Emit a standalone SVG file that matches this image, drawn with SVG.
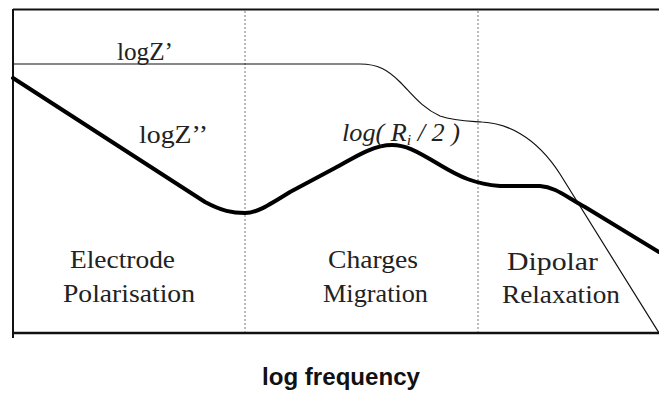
<svg xmlns="http://www.w3.org/2000/svg" width="659" height="394" viewBox="0 0 659 394">
<style>
.axis{stroke:#111;stroke-width:2;fill:none}
.div{stroke:#777;stroke-width:1;stroke-dasharray:2,2;fill:none}
.thin{stroke:#111;stroke-width:1.2;fill:none}
.thick{stroke:#000;stroke-width:4;fill:none;stroke-linejoin:round;stroke-linecap:round}
.serif{font-family:"Liberation Serif","Times New Roman",serif;font-size:25px;fill:#222}
.lbl{font-family:"Liberation Sans",Arial,sans-serif;font-size:23px;font-weight:bold;fill:#111}
</style>
<rect width="659" height="394" fill="#fff"/>
<g id="frame">
<line class="axis" x1="13" y1="9.5" x2="659" y2="9.5"/>
<line class="axis" x1="13" y1="9" x2="13" y2="338"/>
<line class="axis" x1="13" y1="333" x2="659" y2="333" style="stroke-width:2.5"/>
<line class="div" x1="245" y1="11" x2="245" y2="332"/>
<line class="div" x1="478" y1="11" x2="478" y2="332"/>
</g>
<g id="curves">
<path class="thin" d="M13,64 H360 C378,64 388,70 400,82 C412,94 422,108 440,116 C455,121 468,121 482,122 C505,123 535,135 560,174 L659,333"/>
<path class="thick" d="M13,78 L205,202 C222,211 232,213 245,213 C256,213 266,207 290,192 L335,168 C360,154 375,145 392,145 C405,145 415,150 440,165 C460,177 475,184 500,186 L540,186 C555,187 565,196 585,207 L659,252"/>
</g>
<g id="labels">
<text class="serif" x="117" y="60" textLength="56" lengthAdjust="spacingAndGlyphs">logZ’</text>
<text class="serif" x="139" y="143" textLength="69" lengthAdjust="spacingAndGlyphs">logZ’’</text>
<text class="serif" x="342" y="141" font-style="italic" textLength="118" lengthAdjust="spacingAndGlyphs">log( R<tspan font-size="15" dy="4">i</tspan><tspan dy="-4"> / 2 )</tspan></text>
</g>
<g id="region-electrode">
<text class="serif" x="70" y="268" textLength="105" lengthAdjust="spacingAndGlyphs">Electrode</text>
<text class="serif" x="63" y="302" textLength="132" lengthAdjust="spacingAndGlyphs">Polarisation</text>
</g>
<g id="region-charges">
<text class="serif" x="328" y="268" textLength="90" lengthAdjust="spacingAndGlyphs">Charges</text>
<text class="serif" x="323" y="302" textLength="105" lengthAdjust="spacingAndGlyphs">Migration</text>
</g>
<g id="region-dipolar">
<text class="serif" x="507" y="270" textLength="91" lengthAdjust="spacingAndGlyphs">Dipolar</text>
<text class="serif" x="502" y="303" textLength="118" lengthAdjust="spacingAndGlyphs">Relaxation</text>
</g>
<g id="axis-label">
<text class="lbl" x="262" y="385" textLength="158" lengthAdjust="spacingAndGlyphs">log frequency</text>
</g>
</svg>
